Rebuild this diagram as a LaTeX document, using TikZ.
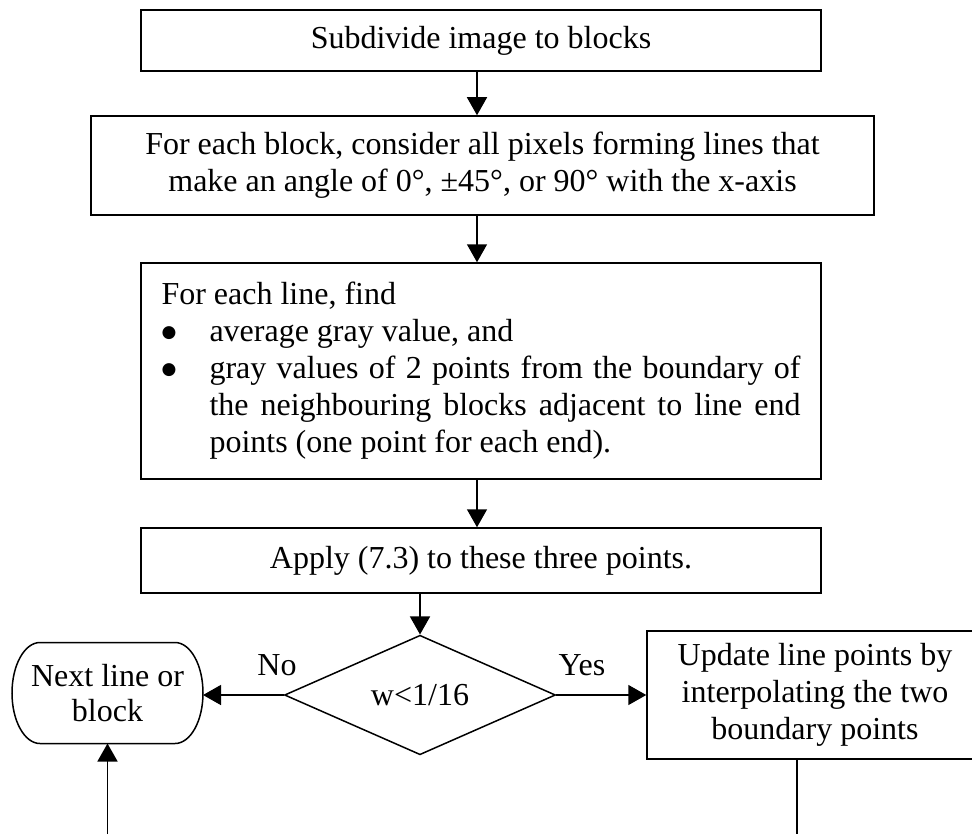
\documentclass[tikz,border=0pt]{standalone}
\usepackage{fontspec}
\setmainfont{Liberation Serif}
\newfontfamily\symfont{DejaVu Sans}
\usetikzlibrary{shapes.geometric,arrows.meta}
\newcommand{\bigbul}{\makebox[24pt][l]{\raisebox{2.4pt}{\symfont\fontsize{8.5}{8.5}\selectfont ●}}}
\tikzset{
  box/.style={draw, line width=0.75pt, inner sep=0pt, align=center,
    font=\fontsize{16}{18.5}\selectfont},
  lbl/.style={inner sep=0pt, font=\fontsize{16}{18.5}\selectfont},
  arr/.style={line width=0.75pt, -{Triangle[length=9pt,width=10pt]}},
  plain/.style={line width=0.75pt}
}
\begin{document}
\begin{tikzpicture}[x=0.5pt,y=-0.5pt]
\useasboundingbox (0,0) rectangle (972,834);
\clip (0,0) rectangle (972,834);
% top boxes
\node[box, minimum width=340pt, minimum height=30.5pt] (b1) at (481,40.5)
  {Subdivide image to blocks};
\node[box, minimum width=391.5pt, minimum height=49.5pt] (b2) at (482.5,165.5)
  {For each block, consider all pixels forming lines that\\
   make an angle of 0°, ±45°, or 90° with the x-axis};
\node[box, minimum width=340pt, minimum height=108pt, inner xsep=10pt,
      text width=319.5pt, align=justify] (b3) at (481,371)
  {\tolerance=9999\emergencystretch=20pt\parindent=0pt
   For each line, find\par
   \bigbul average gray value, and\par
   \hangindent=24pt\hangafter=1
   \bigbul gray values of 2 points from the boundary of\linebreak
   the neighbouring blocks adjacent to line end\linebreak
   points (one point for each end).\par};
\node[box, minimum width=340pt, minimum height=32.5pt] (b4) at (481,560.5)
  {Apply (7.3) to these three points.};
% decision
\node[draw, line width=0.75pt, shape=diamond, inner sep=0pt,
      minimum width=135.5pt, minimum height=48.5pt,
      font=\fontsize{16}{18.5}\selectfont] (dia) at (420,695) {w<1/16};
% rounded terminal box
\node[lbl, minimum width=95.5pt, minimum height=50.5pt, outer sep=0pt,
      align=center, font=\fontsize{16}{17.5}\selectfont] (nb) at (107.5,693)
  {Next line or\\block};
\draw[plain] ([xshift=14pt]nb.north west) -- ([xshift=-14pt]nb.north east)
  arc[start angle=90, end angle=-90, x radius=14pt, y radius=25.25pt]
  -- ([xshift=14pt]nb.south west)
  arc[start angle=270, end angle=90, x radius=14pt, y radius=25.25pt] -- cycle;
% right box
\node[box, minimum width=168pt, minimum height=64pt] (rb) at (815,695)
  {Update line points by\\interpolating the two\\boundary points};
% labels
\node[lbl] (no) at (277,665) {No};
\node[lbl] (yes) at (582,665) {Yes};
% coordinates
\coordinate (ax) at (477,0);
\coordinate (lb) at (107.5,834);
\coordinate (rbot) at (797,834);
% connectors
\draw[arr] (b1.south -| ax) -- (b2.north -| ax);
\draw[arr] (b2.south -| ax) -- (b3.north -| ax);
\draw[arr] (b3.south -| ax) -- (b4.north -| ax);
\draw[arr] (b4.south -| dia.north) -- (dia.north);
\draw[arr] (dia.west) -- (nb.east |- dia.west);
\draw[arr] (dia.east) -- (rb.west);
\draw[arr] (lb) -- (nb.south);
\draw[plain] (rb.south -| rbot) -- (rbot);
\end{tikzpicture}
\end{document}
